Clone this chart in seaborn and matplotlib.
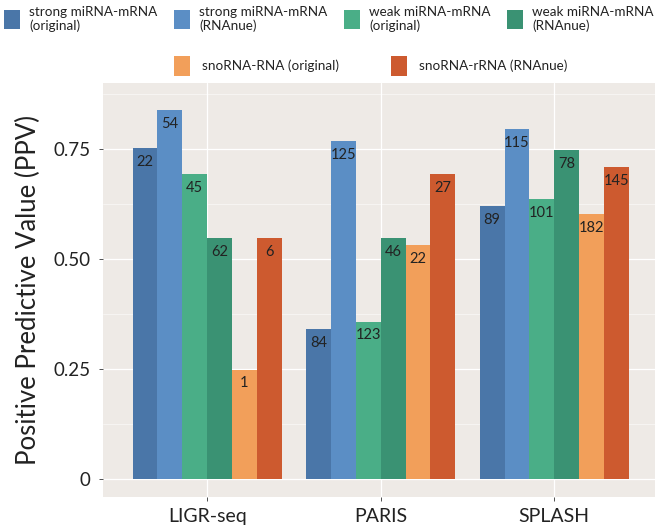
import matplotlib
matplotlib.use("Agg")
import matplotlib.pyplot as plt
import seaborn as sns
import pandas as pd
from matplotlib.patches import Patch
from matplotlib.ticker import MultipleLocator

datasets = ["LIGR-seq", "PARIS", "SPLASH"]
methods = ["strong miRNA-mRNA\n(original)", "strong miRNA-mRNA\n(RNAnue)",
           "weak miRNA-mRNA\n(original)", "weak miRNA-mRNA\n(RNAnue)",
           "snoRNA-RNA (original)", "snoRNA-rRNA (RNAnue)"]
colors = ["#4A76A8", "#5B8EC5", "#4AAE87", "#3A9273", "#F29F5A", "#CD5A2F"]

ppv = {
    "LIGR-seq": [0.752, 0.838, 0.692, 0.548, 0.248, 0.548],
    "PARIS":    [0.341, 0.768, 0.357, 0.548, 0.532, 0.692],
    "SPLASH":   [0.620, 0.795, 0.636, 0.748, 0.602, 0.709],
}
counts = {
    "LIGR-seq": [22, 54, 45, 62, 1, 6],
    "PARIS":    [84, 125, 123, 46, 22, 27],
    "SPLASH":   [89, 115, 101, 78, 182, 145],
}

rows = []
for d in datasets:
    for m, v, c in zip(methods, ppv[d], counts[d]):
        rows.append({"dataset": d, "method": m, "ppv": v, "n": c})
df = pd.DataFrame(rows)

sns.set_theme(style="darkgrid")
plt.rcParams["font.family"] = ["Lato", "DejaVu Sans"]

fig = plt.figure(figsize=(6.61, 5.28), dpi=100)
ax = fig.add_axes([103/661, 1-497/528, (655-103)/661, (497-83)/528])
ax.set_facecolor("#EEEAE6")

sns.barplot(data=df, x="dataset", y="ppv", hue="method", hue_order=methods,
            order=datasets, palette=colors, saturation=1, width=0.86,
            ax=ax, legend=False, linewidth=0)

for i, cont in enumerate(ax.containers):
    labs = [str(counts[d][i]) for d in datasets]
    ax.bar_label(cont, labels=labs, label_type="edge", padding=-15,
                 fontsize=10.5, color="#222222")

ax.set_xlim(-0.6, 2.58)
ax.set_ylim(-0.042, 0.9)
ax.set_yticks([0, 0.25, 0.5, 0.75])
ax.set_yticklabels(["0", "0.25", "0.50", "0.75"], fontsize=13.5, color="#222222")
ax.yaxis.set_minor_locator(MultipleLocator(0.125))
ax.grid(True, which="major", color="white", linewidth=0.9)
ax.grid(True, which="minor", axis="y", color="white", linewidth=0.5, alpha=0.7)
ax.tick_params(axis="x", labelsize=14, colors="#222222", length=3, width=0.6,
               color="#333333", bottom=True, pad=5)
ax.tick_params(axis="y", which="major", length=3, width=0.6, color="#333333", left=True, pad=6)
ax.tick_params(axis="y", which="minor", length=0)
for s in ax.spines.values():
    s.set_visible(False)
ax.set_xlabel("")
ax.set_ylabel("Positive Predictive Value (PPV)", fontsize=18.5, color="#222222", labelpad=9)

handles = [Patch(facecolor=c, edgecolor="none") for c in colors]
leg1 = fig.legend(handles[:4], methods[:4], ncol=4, loc="upper left",
                  bbox_to_anchor=(-0.012, 1.012), frameon=False, fontsize=9.7,
                  handlelength=1.15, handleheight=1.8, columnspacing=1.25,
                  handletextpad=0.7, labelspacing=0.2)
leg2 = fig.legend(handles[4:], methods[4:], ncol=2, loc="upper left",
                  bbox_to_anchor=(0.245, 0.916), frameon=False, fontsize=9.7,
                  handlelength=1.15, handleheight=1.8, columnspacing=3.9,
                  handletextpad=0.9)
for t in list(leg1.get_texts()) + list(leg2.get_texts()):
    t.set_color("#222222")

fig.savefig("out.png", dpi=100, facecolor="white")
